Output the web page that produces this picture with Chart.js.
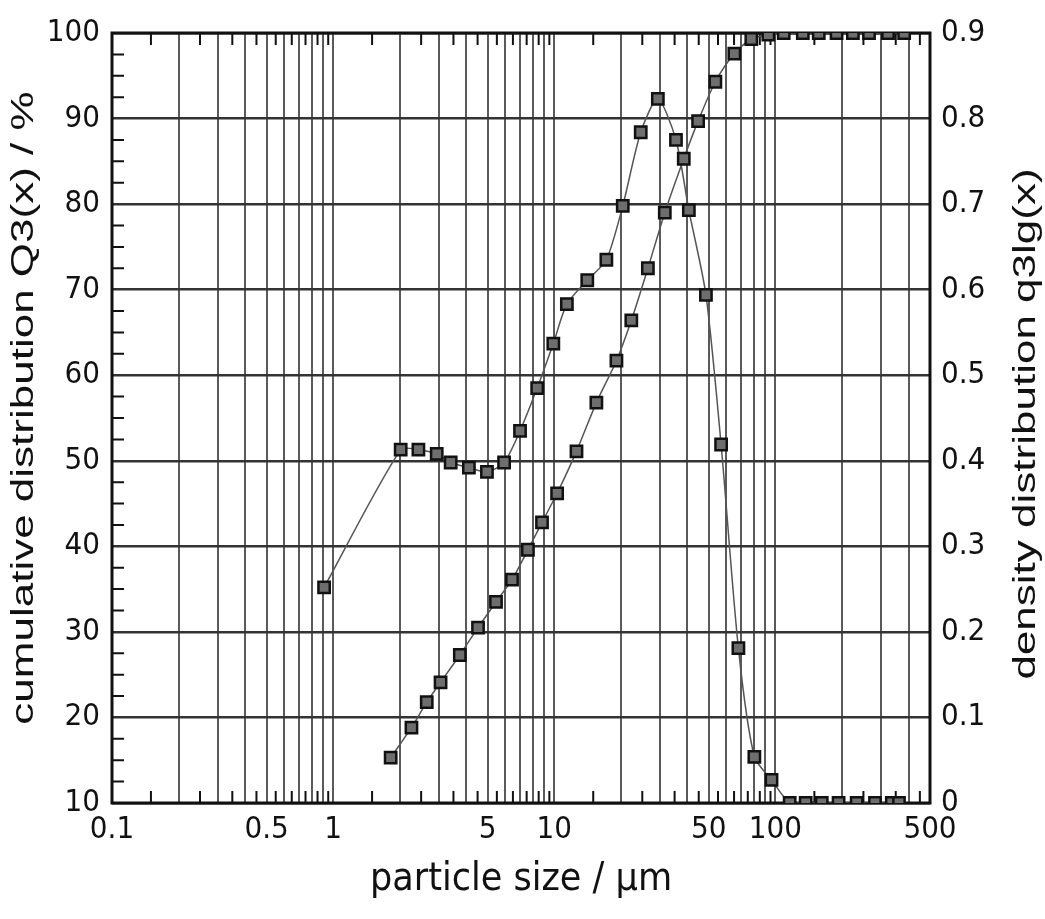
<!DOCTYPE html>
<html>
<head>
<meta charset="utf-8">
<title>particle size distribution</title>
<script src="https://cdn.jsdelivr.net/npm/chart.js@4.4.1/dist/chart.umd.min.js"></script>
<style>
  html, body { margin: 0; padding: 0; background: #fff; }
  #wrap { width: 1045px; height: 919px; }
</style>
</head>
<body>
<div id="wrap"><canvas id="psd" width="1045" height="919"></canvas></div>
<script>
// cumulative distribution Q3(x) in %, left axis
const cumSize = [1.82, 2.26, 2.65, 3.06, 3.74, 4.52, 5.45, 6.44, 7.6, 8.8, 10.3, 12.6, 15.5, 19.1, 22.3, 26.5,
  31.6, 38.5, 44.7, 53.5, 65.2, 77.8, 92.9, 109, 133, 157, 189, 224, 265, 323, 382];
const cumValue = [15.3, 18.8, 21.8, 24.1, 27.3, 30.5, 33.5, 36.1, 39.6, 42.8, 46.2, 51.1, 56.8, 61.7, 66.4, 72.5,
  79.0, 85.3, 89.7, 94.3, 97.6, 99.3, 99.8, 100, 100, 100, 100, 100, 100, 100, 100];

// density distribution q3lg(x), right axis
const densSize = [0.91, 2.02, 2.43, 2.94, 3.4, 4.11, 4.96, 5.93, 7.0, 8.37, 9.9, 11.4, 14.1, 17.2, 20.4, 24.6,
  29.4, 35.5, 40.6, 48.5, 56.8, 68, 80.3, 96, 116, 137, 162, 193, 233, 282, 336, 362];
const densValue = [0.252, 0.413, 0.413, 0.408, 0.398, 0.392, 0.387, 0.398, 0.435, 0.485, 0.537, 0.583, 0.611,
  0.635, 0.698, 0.784, 0.823, 0.775, 0.693, 0.594, 0.419, 0.181, 0.054, 0.027, 0, 0, 0, 0, 0, 0, 0, 0];

// axes
const xGridValues = [0.1, 0.2, 0.3, 0.4, 0.5, 0.6, 0.7, 0.8, 0.9, 1, 2, 3, 4, 5, 6, 7, 8, 9,
  10, 20, 30, 40, 50, 60, 70, 80, 90, 100, 200, 300, 400, 500];
const xTickLabels = [0.1, 0.5, 1, 5, 10, 50, 100, 500];
const xMinorTicks = [0.15, 0.25, 0.35, 0.45, 0.55, 0.65, 0.75, 0.85, 0.95, 1.5, 2.5, 3.5, 4.5, 5.5, 6.5, 7.5, 8.5, 9.5,
  15, 25, 35, 45, 55, 65, 75, 85, 95, 150, 250, 350, 450];
const yMinorTicks = [12.5, 15, 17.5, 22.5, 25, 27.5, 32.5, 35, 37.5, 42.5, 45, 47.5, 52.5, 55, 57.5, 62.5, 65, 67.5,
  72.5, 75, 77.5, 82.5, 85, 87.5, 92.5, 95, 97.5];

const xTitle = 'particle size / µm';
const leftTitle = 'cumulative distribution Q3(x) / %';
const rightTitle = 'density distribution q3lg(x)';

const narrowFamily = '"Liberation Sans Narrow", "Arial Narrow", "DejaVu Sans Condensed", sans-serif';
const tickFont = { family: narrowFamily, size: 31 };
const ink = '#111';

function drawRotatedTitle(ctx, text, x, y) {
  ctx.save();
  ctx.translate(x, y);
  ctx.rotate(-Math.PI / 2);
  ctx.scale(1, 0.7);
  ctx.font = '44px "Liberation Sans", Arial, sans-serif';
  ctx.fillStyle = ink;
  ctx.textAlign = 'center';
  ctx.textBaseline = 'alphabetic';
  ctx.fillText(text, 0, 0);
  ctx.restore();
}

// inner minor ticks, frame and the two rotated axis titles
const paperPlugin = {
  id: 'paper',
  beforeDatasetsDraw(chart) {
    const { ctx, chartArea: area, scales } = chart;
    ctx.save();
    ctx.strokeStyle = ink;
    ctx.lineWidth = 2;
    ctx.beginPath();
    xMinorTicks.forEach((v) => {
      const px = scales.x.getPixelForValue(v);
      ctx.moveTo(px, area.top);
      ctx.lineTo(px, area.top + 12);
      ctx.moveTo(px, area.bottom);
      ctx.lineTo(px, area.bottom - 12);
    });
    yMinorTicks.forEach((v) => {
      const py = scales.y.getPixelForValue(v);
      ctx.moveTo(area.left, py);
      ctx.lineTo(area.left + 12, py);
    });
    ctx.stroke();
    ctx.lineWidth = 3;
    ctx.strokeRect(area.left, area.top, area.right - area.left, area.bottom - area.top);
    ctx.restore();
  },
  afterDraw(chart) {
    const { ctx } = chart;
    drawRotatedTitle(ctx, leftTitle, 33, 408);
    drawRotatedTitle(ctx, rightTitle, 1035, 424);
  },
};

const cumPoints = cumSize.map((x, i) => ({ x, y: cumValue[i] }));
const densPoints = densSize.map((x, i) => ({ x, y: densValue[i] }));

const lineStyle = {
  borderColor: '#555',
  borderWidth: 1.5,
  tension: 0.25,
  pointStyle: 'rect',
  pointRadius: 8,
  pointBorderWidth: 2.5,
  pointBorderColor: '#111',
  pointBackgroundColor: '#6e6e6e',
  fill: false,
};

new Chart(document.getElementById('psd'), {
  type: 'line',
  data: {
    datasets: [
      { label: 'Q3(x)', data: cumPoints, yAxisID: 'y', ...lineStyle },
      { label: 'q3lg(x)', data: densPoints, yAxisID: 'y2', ...lineStyle },
    ],
  },
  options: {
    responsive: false,
    animation: false,
    devicePixelRatio: 1,
    layout: { padding: { top: 33, left: 0, right: 0, bottom: 0 } },
    plugins: { legend: { display: false }, tooltip: { enabled: false } },
    scales: {
      x: {
        type: 'logarithmic',
        min: 0.1,
        max: 500,
        afterBuildTicks: (scale) => {
          scale.ticks = xGridValues.map((v) => ({ value: v }));
        },
        afterFit: (scale) => { scale.height = 116; },
        ticks: {
          autoSkip: false,
          maxRotation: 0,
          padding: 8,
          color: ink,
          font: tickFont,
          callback: (value) => (xTickLabels.includes(value) ? String(value) : ''),
        },
        grid: { color: '#5a5a5a', lineWidth: 2, drawTicks: false },
        border: { display: false },
        title: {
          display: true,
          text: xTitle,
          color: ink,
          font: { family: narrowFamily, size: 39 },
          padding: { top: 0, bottom: 16 },
        },
      },
      y: {
        position: 'left',
        min: 10,
        max: 100,
        afterFit: (scale) => { scale.width = 112; },
        ticks: { stepSize: 10, padding: 12, color: ink, font: tickFont },
        grid: { color: '#333', lineWidth: 2.5, drawTicks: false },
        border: { display: false },
      },
      y2: {
        position: 'right',
        min: 0,
        max: 0.9,
        afterFit: (scale) => { scale.width = 115; },
        ticks: {
          stepSize: 0.1,
          padding: 11,
          color: ink,
          font: tickFont,
          callback: (value) => (value === 0 ? '0' : value.toFixed(1)),
        },
        grid: { display: false, drawTicks: false },
        border: { display: false },
      },
    },
  },
  plugins: [paperPlugin],
});
</script>
</body>
</html>
